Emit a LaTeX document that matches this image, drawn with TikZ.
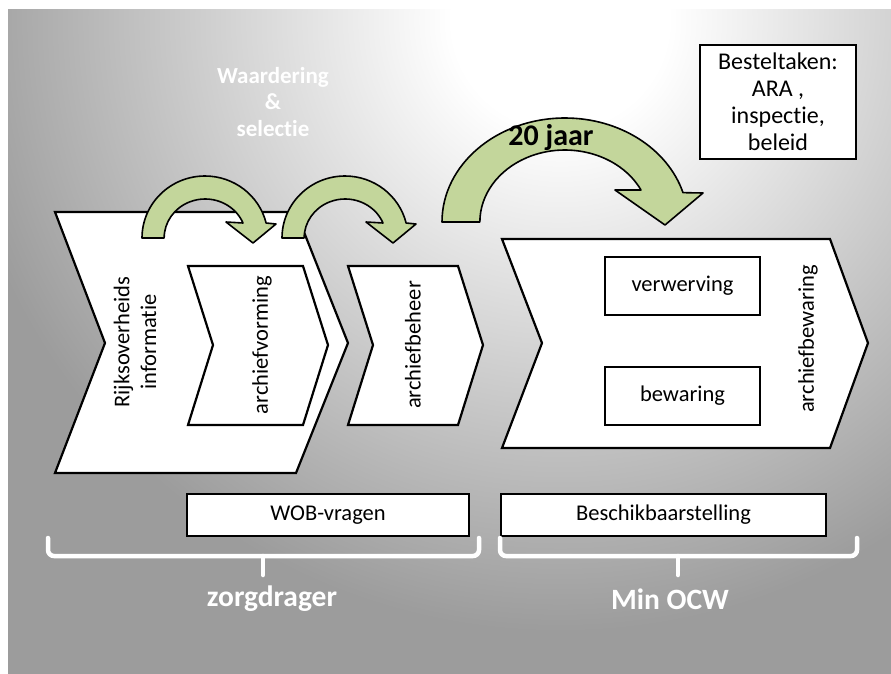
\documentclass[tikz,border=0pt]{standalone}
\usepackage{fontspec}
\setmainfont[Ligatures={NoCommon}]{Carlito}
\definecolor{arrowgreen}{RGB}{195,214,155}
\definecolor{bgouter}{RGB}{156,156,156}
\pgfdeclareradialshading{bgshade}{\pgfpoint{0bp}{0bp}}{color(0bp)=(white); color(3bp)=(white); color(17bp)=(bgouter); color(50bp)=(bgouter)}
\tikzset{
  chev/.style={draw=black, fill=white, line width=2.2pt, line join=miter},
  greenarrow/.style={draw=black, fill=arrowgreen, line width=1.6pt, line join=round},
  whitebox/.style={draw=black, fill=white, line width=2pt, inner sep=0pt},
  lbl/.style={font=\fontsize{22.5}{26.8}\selectfont, align=center, inner sep=0pt},
  bigw/.style={font=\fontsize{29.5}{34}\selectfont\bfseries, text=white, inner sep=0pt},
  bracket/.style={draw=white, line width=4.5pt, line cap=round, line join=round, rounded corners=6pt},
}
\begin{document}
\begin{tikzpicture}[x=1pt,y=-1pt]
\useasboundingbox (0,0) rectangle (891,673);
\fill[white] (0,0) rectangle (891,673);
\fill[bgouter] (8,9) rectangle (891,673);
\begin{scope}
  \clip (8,9) rectangle (891,673);
  \shade[shading=bgshade] (560,20) circle (900);
\end{scope}

% Besteltaken box
\node[whitebox, minimum width=156pt, minimum height=114pt, align=center,
      font=\fontsize{24}{27}\selectfont] (best) at (778,102) {Besteltaken:\\ARA ,\\inspectie,\\beleid};

% chevrons
\draw[chev] (55,212) -- (296,212) -- (348,343) -- (296,473) -- (55,473) -- (105,343) -- cycle;
\draw[chev] (188,266) -- (303,266) -- (328,345) -- (303,425) -- (188,425) -- (213,345) -- cycle;
\draw[chev] (348,266) -- (458,266) -- (483,345) -- (458,425) -- (348,425) -- (373,345) -- cycle;
\draw[chev] (502,239) -- (830,239) -- (868,343) -- (830,448) -- (502,448) -- (542,343) -- cycle;

% chevron texts
\node[lbl, rotate=90] (rijks) at (135,342) {Rijksoverheids\\informatie};
\node[lbl, rotate=90] (vorm) at (262,345) {archiefvorming};
\node[lbl, rotate=90] (beheer) at (413,345) {archiefbeheer};
\node[lbl, rotate=90] (bewar) at (808,339) {archiefbewaring};

% inner boxes
\node[whitebox, lbl, minimum width=155pt, minimum height=58pt] (verw) at (682.5,286) {verwerving};
\node[whitebox, lbl, minimum width=155pt, minimum height=58pt] (bew) at (682.5,396) {bewaring};

% small curved arrows
\draw[greenarrow] (142,238) arc[start angle=180, end angle=346, x radius=63, y radius=62]
  -- (276,224) -- (253,243) -- (226,222) -- (243,223)
  arc[start angle=337.4, end angle=180, x radius=41, y radius=39] -- cycle;
\draw[greenarrow] (282,238) arc[start angle=180, end angle=346, x radius=63, y radius=62]
  -- (416,224) -- (393,243) -- (366,222) -- (383,223)
  arc[start angle=337.4, end angle=180, x radius=41, y radius=39] -- cycle;

% big curved arrow
\draw[greenarrow] (442,222) arc[start angle=180, end angle=343.6, x radius=123, y radius=104]
  -- (703,193) -- (665,225) -- (615,190) -- (641,190)
  arc[start angle=333.6, end angle=180, x radius=85, y radius=72] -- cycle;
\node[font=\fontsize{30}{34}\selectfont\bfseries, inner sep=0pt] (jaar) at (551,138) {20 jaar};

% Waardering & selectie
\node[font=\fontsize{23}{26.5}\selectfont\bfseries, text=white, align=center, inner sep=0pt] (waard) at (273,102) {Waardering\\\&\\selectie};

% bottom boxes
\node[whitebox, lbl, minimum width=282pt, minimum height=42pt] (wob) at (328,515) {WOB-vragen};
\node[whitebox, lbl, minimum width=325pt, minimum height=42pt] (besch) at (663.5,515) {Beschikbaarstelling};

% braces
\draw[bracket] (48,538) -- (48,556) -- (479,556) -- (479,538);
\coordinate (lt) at (263,575);
\draw[bracket] (263,556) -- (lt);
\draw[bracket] (500,538) -- (500,556) -- (857,556) -- (857,538);
\coordinate (rt) at (678,575);
\draw[bracket] (678,556) -- (rt);

\node[bigw] (zorg) at (272,599) {zorgdrager};
\node[bigw] (ocw) at (670,599) {Min OCW};
\end{tikzpicture}
\end{document}
